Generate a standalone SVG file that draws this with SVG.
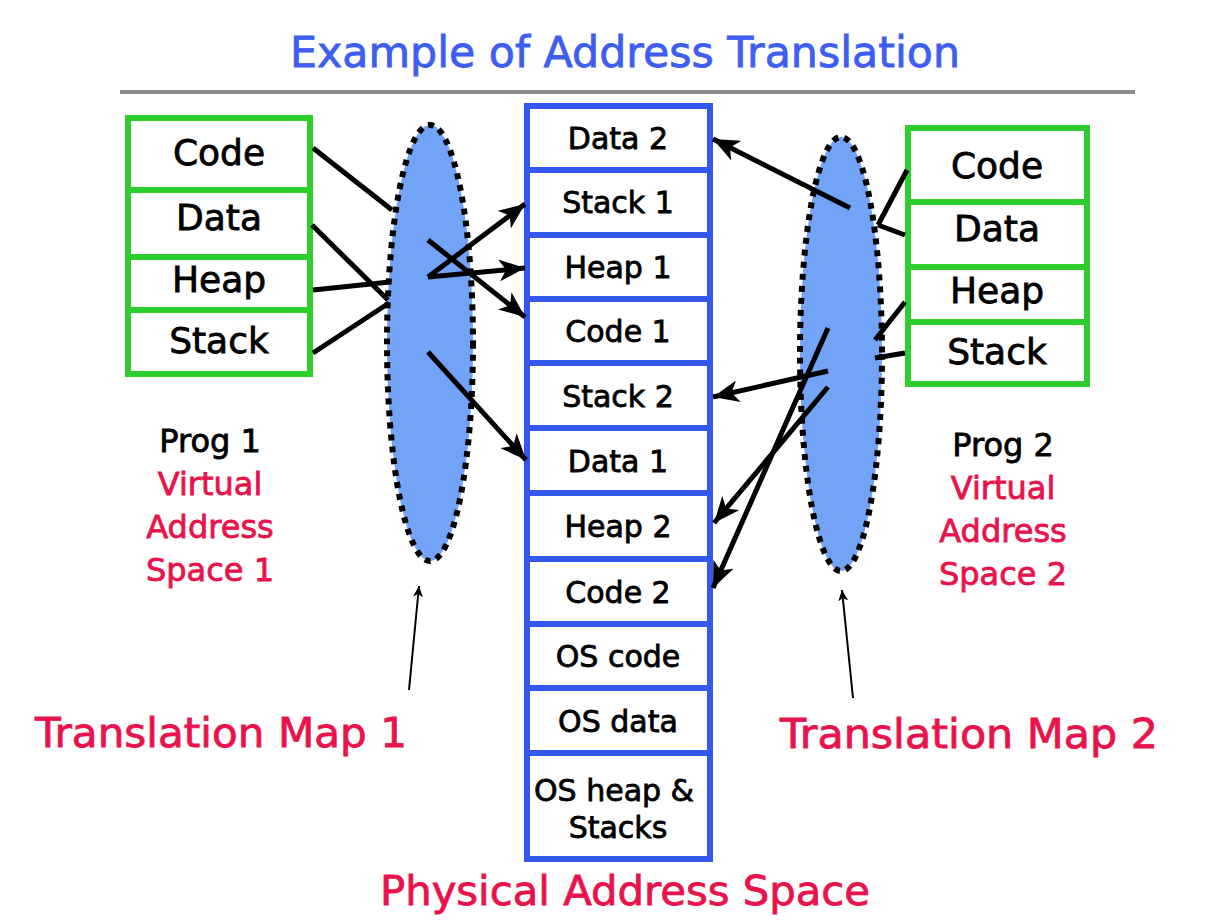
<svg xmlns="http://www.w3.org/2000/svg" width="1219" height="924" viewBox="0 0 1219 924">
<defs>
<marker id="ah" markerUnits="userSpaceOnUse" markerWidth="28" markerHeight="22" refX="26" refY="11" orient="auto">
<path d="M0,0 L26,11 L0,22 L7,11 Z" fill="#000"/>
</marker>
<marker id="ahs" markerUnits="userSpaceOnUse" markerWidth="12" markerHeight="10" refX="11" refY="5" orient="auto">
<path d="M0,0 L11,5 L0,10 L3,5 Z" fill="#000"/>
</marker>
</defs>
<style>
.t{font-family:"DejaVu Sans","Liberation Sans",sans-serif;text-anchor:middle;stroke-width:0.8}
.blk{fill:#000;stroke:#000}
.red{fill:#e8124c;stroke:#e8124c}
.ttl{fill:#3d5ef0;stroke:#3d5ef0}
.vbox{fill:#fff;stroke:#2ccf2c;stroke-width:6}
.pbox{fill:#fff;stroke:#3458ee;stroke-width:6}
.map{fill:#72a3f7;stroke:#000;stroke-width:6;stroke-dasharray:6 6}
.c{fill:none;stroke:#000;stroke-width:5;stroke-linecap:butt}
.thin{fill:none;stroke:#000;stroke-width:2}
</style>
<rect width="1219" height="924" fill="#fff"/>
<g id="title">
<text class="t ttl" x="625" y="67" font-size="42" textLength="670" lengthAdjust="spacingAndGlyphs">Example of Address Translation</text>
<line x1="120" y1="92" x2="1135" y2="92" stroke="#8a8a8a" stroke-width="4"/>
</g>
<g id="vas1">
<rect class="vbox" x="128" y="118" width="182" height="72"/>
<rect class="vbox" x="128" y="190" width="182" height="67"/>
<rect class="vbox" x="128" y="257" width="182" height="53"/>
<rect class="vbox" x="128" y="310" width="182" height="64"/>
<text class="t blk" x="219" y="165" font-size="36">Code</text>
<text class="t blk" x="219" y="230" font-size="36">Data</text>
<text class="t blk" x="219" y="292" font-size="36">Heap</text>
<text class="t blk" x="219" y="353" font-size="36">Stack</text>
</g>
<g id="vas2">
<rect class="vbox" x="908" y="128" width="179" height="74"/>
<rect class="vbox" x="908" y="202" width="179" height="65"/>
<rect class="vbox" x="908" y="267" width="179" height="55"/>
<rect class="vbox" x="908" y="322" width="179" height="62"/>
<text class="t blk" x="997" y="178" font-size="36">Code</text>
<text class="t blk" x="997" y="241" font-size="36">Data</text>
<text class="t blk" x="997" y="303" font-size="36">Heap</text>
<text class="t blk" x="997" y="364" font-size="36">Stack</text>
</g>
<g id="map1">
<ellipse class="map" cx="430" cy="343" rx="43" ry="218"/>
</g>
<g id="map2">
<ellipse class="map" cx="841" cy="354" rx="41" ry="217"/>
</g>
<g id="pas">
<rect class="pbox" x="527" y="106" width="183" height="64"/>
<rect class="pbox" x="527" y="170" width="183" height="65"/>
<rect class="pbox" x="527" y="235" width="183" height="64"/>
<rect class="pbox" x="527" y="299" width="183" height="64"/>
<rect class="pbox" x="527" y="363" width="183" height="65"/>
<rect class="pbox" x="527" y="428" width="183" height="65"/>
<rect class="pbox" x="527" y="493" width="183" height="66"/>
<rect class="pbox" x="527" y="559" width="183" height="65"/>
<rect class="pbox" x="527" y="624" width="183" height="64"/>
<rect class="pbox" x="527" y="688" width="183" height="65"/>
<rect class="pbox" x="527" y="753" width="183" height="106"/>
<text class="t blk" x="618" y="149" font-size="30">Data 2</text>
<text class="t blk" x="618" y="213" font-size="30">Stack 1</text>
<text class="t blk" x="618" y="278" font-size="30">Heap 1</text>
<text class="t blk" x="618" y="342" font-size="30">Code 1</text>
<text class="t blk" x="618" y="407" font-size="30">Stack 2</text>
<text class="t blk" x="618" y="472" font-size="30">Data 1</text>
<text class="t blk" x="618" y="537" font-size="30">Heap 2</text>
<text class="t blk" x="618" y="603" font-size="30">Code 2</text>
<text class="t blk" x="618" y="667" font-size="30">OS code</text>
<text class="t blk" x="618" y="732" font-size="30">OS data</text>
<text class="t blk" x="614" y="801" font-size="30">OS heap &amp;</text>
<text class="t blk" x="618" y="838" font-size="30">Stacks</text>
</g>
<g id="connectors">
<path class="c" d="M313,148 L392,210 M428,240 L525,317" marker-end="url(#ah)"/>
<path class="c" d="M312,225 L388,300 M428,352 L526,460" marker-end="url(#ah)"/>
<path class="c" d="M313,290 L390,282 M428,277 L525,268" marker-end="url(#ah)"/>
<path class="c" d="M313,353 L389,303 M428,277 L525,204" marker-end="url(#ah)"/>
<path class="c" d="M907,170 L878,225 M828,328 L713,588" marker-end="url(#ah)"/>
<path class="c" d="M905,235 L878,225 M850,208 L713,139" marker-end="url(#ah)"/>
<path class="c" d="M905,302 L875,340 M828,387 L714,523" marker-end="url(#ah)"/>
<path class="c" d="M905,353 L875,358 M828,371 L713,397" marker-end="url(#ah)"/>
<path class="thin" d="M409,690 L419,586" marker-end="url(#ahs)"/>
<path class="thin" d="M853,698 L842,590" marker-end="url(#ahs)"/>
</g>
<g id="label1">
<text class="t blk" x="210" y="452" font-size="32">Prog 1</text>
<text class="t red" x="210" y="495" font-size="32">Virtual</text>
<text class="t red" x="210" y="538" font-size="32">Address</text>
<text class="t red" x="210" y="581" font-size="32">Space 1</text>
<text class="t red" x="221" y="747" font-size="40" textLength="372" lengthAdjust="spacingAndGlyphs">Translation Map 1</text>
</g>
<g id="label2">
<text class="t blk" x="1003" y="456" font-size="32">Prog 2</text>
<text class="t red" x="1003" y="499" font-size="32">Virtual</text>
<text class="t red" x="1003" y="542" font-size="32">Address</text>
<text class="t red" x="1003" y="585" font-size="32">Space 2</text>
<text class="t red" x="969" y="748" font-size="40" textLength="378" lengthAdjust="spacingAndGlyphs">Translation Map 2</text>
</g>
<g id="pasLabel">
<text class="t red" x="625" y="905" font-size="40" textLength="490" lengthAdjust="spacingAndGlyphs">Physical Address Space</text>
</g>
</svg>
